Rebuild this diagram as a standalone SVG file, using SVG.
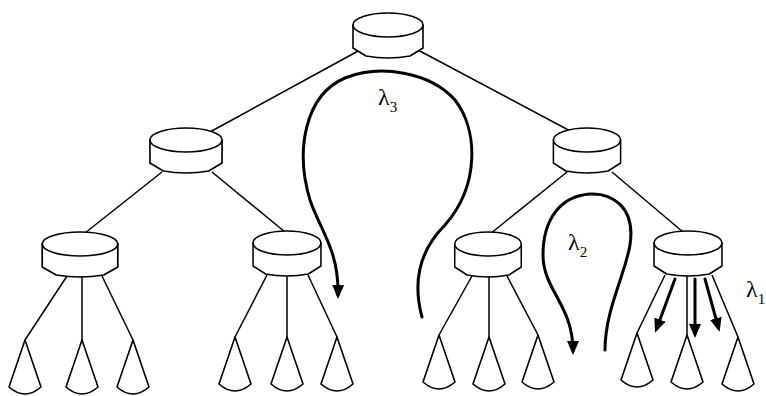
<svg xmlns="http://www.w3.org/2000/svg" xmlns:xlink="http://www.w3.org/1999/xlink" width="766" height="396" viewBox="0 0 766 396">
<style>
.o{fill:#fff;stroke:#000;stroke-width:1.6;stroke-linejoin:round}
.e{fill:none;stroke:#000;stroke-width:1.5}
.f{fill:none;stroke:#000;stroke-width:3;stroke-linecap:round}
.t{font-family:"Liberation Serif","Times New Roman",serif;fill:#000}
</style>
<defs>
<g id="disk">
<path class="o" d="M-35,0 V23 L-22,31 Q0,35 22,31 L35,23 V0 Z"/>
<ellipse class="o" cx="0" cy="0" rx="35" ry="12"/>
</g>
<path id="cone" class="o" d="M0,0 L-16,47 Q0,61 16,47 Z"/>
<marker id="ah" markerUnits="userSpaceOnUse" markerWidth="14" markerHeight="12" refX="10" refY="6" orient="auto">
<path d="M0,0 L14,6 L0,12 Z" fill="#000"/>
</marker>
</defs>

<g id="connectors">
<line class="e" x1="360" y1="50" x2="210" y2="132"/>
<line class="e" x1="418" y1="50" x2="574" y2="133"/>
<line class="e" x1="162" y1="172" x2="85" y2="233"/>
<line class="e" x1="212" y1="172" x2="285" y2="232"/>
<line class="e" x1="567" y1="172" x2="490" y2="234"/>
<line class="e" x1="612" y1="172" x2="683" y2="232"/>
<line class="e" x1="67" y1="276" x2="25" y2="340"/>
<line class="e" x1="82" y1="276" x2="82" y2="340"/>
<line class="e" x1="102" y1="276" x2="133" y2="340"/>
<line class="e" x1="267" y1="275" x2="235" y2="337"/>
<line class="e" x1="287" y1="275" x2="287" y2="337"/>
<line class="e" x1="308" y1="275" x2="337" y2="337"/>
<line class="e" x1="472" y1="276" x2="439" y2="335"/>
<line class="e" x1="489" y1="276" x2="489" y2="337"/>
<line class="e" x1="507" y1="276" x2="538" y2="335"/>
<line class="e" x1="665" y1="275" x2="637" y2="333"/>
<line class="e" x1="687" y1="275" x2="687" y2="335"/>
<line class="e" x1="712" y1="275" x2="738" y2="337"/>
</g>

<g id="root"><use xlink:href="#disk" transform="translate(388,25)"/></g>
<g id="n-left"><use xlink:href="#disk" transform="translate(186,140) scale(1.03,1)"/></g>
<g id="n-right"><use xlink:href="#disk" transform="translate(587,140) scale(0.96,1)"/></g>
<g id="n-ll"><use xlink:href="#disk" transform="translate(80,244) scale(1.08,1)"/></g>
<g id="n-lr"><use xlink:href="#disk" transform="translate(287,243) scale(0.97,1)"/></g>
<g id="n-rl"><use xlink:href="#disk" transform="translate(488,244) scale(0.95,1)"/></g>
<g id="n-rr"><use xlink:href="#disk" transform="translate(688,243) scale(0.97,1)"/></g>

<g id="leaves">
<use xlink:href="#cone" x="25" y="340"/>
<use xlink:href="#cone" x="82" y="340"/>
<use xlink:href="#cone" x="133" y="340"/>
<use xlink:href="#cone" x="235" y="337"/>
<use xlink:href="#cone" x="287" y="337"/>
<use xlink:href="#cone" x="337" y="337"/>
<use xlink:href="#cone" x="439" y="335"/>
<use xlink:href="#cone" x="489" y="337"/>
<use xlink:href="#cone" x="538" y="335"/>
<use xlink:href="#cone" x="637" y="333"/>
<use xlink:href="#cone" x="687" y="335"/>
<use xlink:href="#cone" x="738" y="337"/>
</g>

<g id="flows">
<path class="f" marker-end="url(#ah)" d="M422,317 C412,280 420,250 445,225 C480,185 478,130 455,100 C430,72 380,64 345,78 C305,95 295,150 310,200 C320,230 339,250 338,295"/>
<path class="f" marker-end="url(#ah)" d="M605,350 C605,310 625,275 630,245 C636,205 610,193 590,194 C560,196 543,220 543,255 C543,290 573,305 573,351"/>
<line class="f" marker-end="url(#ah)" x1="675" y1="279" x2="656.5" y2="329"/>
<line class="f" marker-end="url(#ah)" x1="695" y1="279" x2="695" y2="334"/>
<line class="f" marker-end="url(#ah)" x1="705" y1="279" x2="718.5" y2="328"/>
</g>

<g id="labels" class="t">
<text x="378" y="105" font-size="24">λ<tspan font-size="15" dy="7">3</tspan></text>
<text x="568" y="250" font-size="24">λ<tspan font-size="15" dy="7">2</tspan></text>
<text x="746" y="297" font-size="24">λ<tspan font-size="15" dy="7">1</tspan></text>
</g>
</svg>
